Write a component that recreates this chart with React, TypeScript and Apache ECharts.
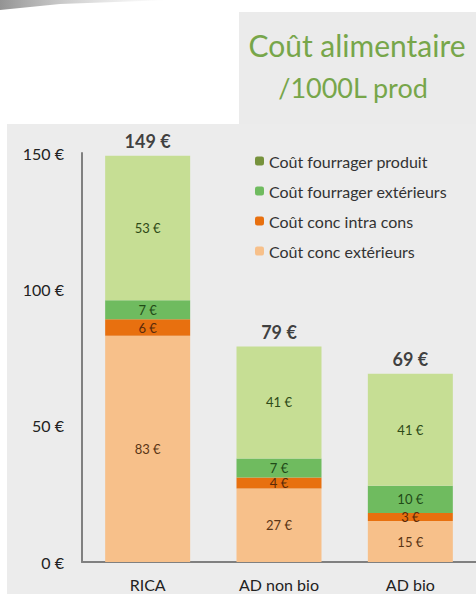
import React, { useEffect, useRef } from "react";
import * as echarts from "echarts";

const categories = ["RICA", "AD non bio", "AD bio"];
const fourragerProduit = [53, 41, 41];
const fourragerExterieurs = [7, 7, 10];
const concIntraCons = [6, 4, 3];
const concExterieurs = [83, 27, 15];
const totals = [149, 79, 69];
const yTicks = { min: 0, max: 150, interval: 50 };

const FONT = "Lato, 'Open Sans', sans-serif";

export default function App() {
  const ref = useRef<HTMLDivElement>(null);
  useEffect(() => {
    document.body.style.margin = "0";
    const chart = echarts.init(ref.current!, null, { renderer: "svg" });
    const insideLabel = (color: string) => ({
      show: true,
      position: "inside",
      formatter: "{c} €",
      fontSize: 13,
      lineHeight: 12,
      fontFamily: FONT,
      color,
    });
    const barW = 85;
    chart.setOption({
      animation: false,
      backgroundColor: "#ffffff",
      textStyle: { fontFamily: FONT },
      graphic: [
        { type: "rect", z: -10, shape: { x: 239, y: 12, width: 237, height: 114 }, style: { fill: "#ebebeb" } },
        { type: "rect", z: -10, shape: { x: 7, y: 124, width: 469, height: 470 }, style: { fill: "#ececec" } },
        {
          type: "polygon",
          z: -9,
          shape: { points: [[0, 0], [170, 0], [60, 4], [0, 10]] },
          style: {
            fill: new echarts.graphic.LinearGradient(0, 0, 1, 0, [
              { offset: 0, color: "rgba(120,120,120,0.8)" },
              { offset: 1, color: "rgba(200,200,200,0)" },
            ]),
          },
        },
        {
          type: "text",
          x: 357,
          y: 45,
          style: {
            text: "Coût alimentaire",
            fill: "#77a64a",
            fontSize: 30,
            fontFamily: FONT,
            align: "center",
            verticalAlign: "middle",
          },
        },
        {
          type: "text",
          x: 353,
          y: 87,
          style: {
            text: "/1000L prod",
            fill: "#77a64a",
            fontSize: 27,
            fontFamily: FONT,
            align: "center",
            verticalAlign: "middle",
          },
        },
      ],
      legend: {
        orient: "vertical",
        left: 250,
        top: 148,
        itemWidth: 9,
        itemHeight: 9,
        itemGap: 14,
        textStyle: { fontSize: 16, color: "#333", fontFamily: FONT },
        data: [
          { name: "Coût fourrager produit", itemStyle: { color: "#76923c" } },
          { name: "Coût fourrager extérieurs", itemStyle: { color: "#6fbb5f" } },
          { name: "Coût conc intra cons", itemStyle: { color: "#e8700f" } },
          { name: "Coût conc extérieurs", itemStyle: { color: "#f7c08a" } },
        ],
      },
      grid: { left: 82, top: 153, bottom: 32, width: 398 },
      xAxis: {
        type: "category",
        data: categories,
        axisLine: { lineStyle: { color: "#808080", width: 2 } },
        axisTick: { show: false },
        axisLabel: { fontSize: 16, color: "#222", margin: 14, fontFamily: FONT },
      },
      yAxis: {
        type: "value",
        min: yTicks.min,
        max: yTicks.max,
        interval: yTicks.interval,
        axisLine: { show: true, lineStyle: { color: "#808080", width: 2 } },
        axisTick: { show: false },
        splitLine: { show: false },
        axisLabel: { fontSize: 16, color: "#222", margin: 18, formatter: "{value} €", fontFamily: FONT },
      },
      series: [
        {
          name: "Coût conc extérieurs",
          type: "bar",
          stack: "t",
          barWidth: barW,
          data: concExterieurs,
          itemStyle: { color: "#f7c08a" },
          label: insideLabel("#5a3515"),
        },
        {
          name: "Coût conc intra cons",
          type: "bar",
          stack: "t",
          barWidth: barW,
          data: concIntraCons,
          itemStyle: { color: "#e8700f" },
          label: insideLabel("#5a2a0a"),
        },
        {
          name: "Coût fourrager extérieurs",
          type: "bar",
          stack: "t",
          barWidth: barW,
          data: fourragerExterieurs,
          itemStyle: { color: "#6fbb5f" },
          label: insideLabel("#1f4a17"),
        },
        {
          name: "Coût fourrager produit",
          type: "bar",
          stack: "t",
          barWidth: barW,
          data: fourragerProduit,
          itemStyle: { color: "#c6de94" },
          label: insideLabel("#2e4a17"),
        },
        {
          name: "Total",
          type: "scatter",
          data: totals,
          symbolSize: 1,
          itemStyle: { color: "rgba(0,0,0,0)" },
          label: {
            show: true,
            position: "top",
            distance: 5,
            formatter: "{c} €",
            fontSize: 18,
            fontWeight: "bold",
            color: "#111",
            fontFamily: FONT,
          },
        },
      ],
    });
    return () => chart.dispose();
  }, []);
  return <div ref={ref} style={{ position: "absolute", left: 0, top: 0, width: 476, height: 594 }} />;
}
